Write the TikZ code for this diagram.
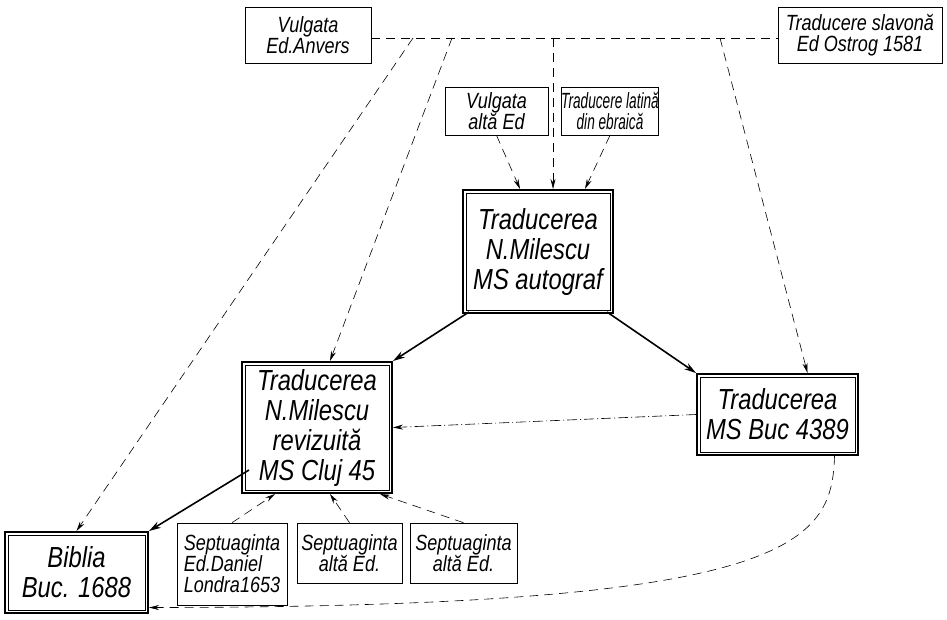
\documentclass[tikz,border=0pt]{standalone}
\usepackage{fontspec}
\setmainfont{Liberation Sans}[FakeStretch=0.82]
\newfontfamily\narrowfont{Liberation Sans}[FakeStretch=0.62]
\usetikzlibrary{arrows.meta,calc}
\begin{document}
\begin{tikzpicture}[x=1pt,y=-1pt,
  smallbox/.style={draw,line width=0.6pt,inner sep=0pt,align=center,font=\itshape\fontsize{22}{21}\selectfont},
  mainbox/.style={draw,line width=2pt,inner sep=0pt,align=center,font=\itshape\fontsize{29}{30}\selectfont},
  tip/.style={-{Stealth[length=10pt,width=5pt]}},
  dashedge/.style={tip,line width=0.6pt,dash pattern=on 9pt off 6pt},
  dashdot/.style={tip,line width=0.6pt,dash pattern=on 10pt off 3pt on 1pt off 3pt},
  thickedge/.style={-{Stealth[length=12pt,width=7pt]},line width=1.6pt}]
\useasboundingbox (0,0) rectangle (947,619);
\newcommand{\innerframe}[1]{\draw[line width=0.6pt] ($(#1.north west)+(4,4)$) rectangle ($(#1.south east)+(-4,-4)$);}

% small boxes
\node[smallbox,minimum width=126,minimum height=56] (anv) at (308,35) {Vulgata\\Ed.Anvers};
\node[smallbox,minimum width=164,minimum height=56] (slav) at (860,35) {Traducere slavonă\\Ed Ostrog 1581};
\node[smallbox,minimum width=103,minimum height=48] (valt) at (496.5,111) {Vulgata\\altă Ed};
\node[smallbox,minimum width=94,minimum height=48,font=\narrowfont\itshape\fontsize{22}{21}\selectfont] (lat) at (610,111) {Traducere latină\\din ebraică};
\node[smallbox,minimum width=110,minimum height=82,align=left] (s1) at (232,564) {Septuaginta\\Ed.Daniel\\Londra1653};
\node[smallbox,minimum width=105,minimum height=60] (s2) at (349.5,553) {Septuaginta\\altă Ed.};
\node[smallbox,minimum width=107,minimum height=60] (s3) at (463.5,553) {Septuaginta\\altă Ed.};

% main boxes
\node[mainbox,minimum width=150,minimum height=123] (mil) at (538,251.5) {Traducerea\\N.Milescu\\MS autograf};
\innerframe{mil}
\node[mainbox,minimum width=150,minimum height=131] (cluj) at (317,427.5) {Traducerea\\N.Milescu\\revizuită\\MS Cluj 45};
\innerframe{cluj}
\node[mainbox,minimum width=161,minimum height=81] (buc) at (777.5,414.5) {Traducerea\\MS Buc 4389};
\innerframe{buc}
\node[mainbox,minimum width=143,minimum height=81] (bib) at (76.5,572.5) {Biblia\\Buc. 1688};
\innerframe{bib}

% top line and branch points
\coordinate (t1) at (413,38);
\coordinate (t2) at (452,38);
\coordinate (t3) at (553,38);
\coordinate (t4) at (720,38);
\draw[line width=0.6pt,dash pattern=on 9pt off 6pt] ([yshift=-3]anv.east) -- ([yshift=-3]slav.west);
\draw[dashedge] (t1) -- (bib.north);
\draw[dashedge] (t2) -- ([xshift=13]cluj.north);
\draw[dashedge] (t3) -- ([xshift=15]mil.north);
\draw[dashedge] (t4) -- ([xshift=30]buc.north);
\draw[dashedge] (valt.south) -- ([xshift=-18]mil.north);
\draw[dashedge] (lat.south) -- ([xshift=47]mil.north);

% thick arrows
\draw[thickedge] ([shift={(7,-2)}]mil.south west) -- (cluj.north east);
\draw[thickedge] ([shift={(-7,-2)}]mil.south east) -- (buc.north west);
\draw[thickedge] ([shift={(8,-24)}]cluj.south west) -- (bib.north east);

% dash-dot
\draw[dashdot] (buc.west) -- (cluj.east);

% septuaginta arrows
\draw[dashedge] (s1.north) -- ([xshift=-42]cluj.south);
\draw[dashedge] (s2.north) -- ([xshift=13]cluj.south);
\draw[dashedge] (s3.north) -- ([xshift=63]cluj.south);

% curve from Buc to Biblia
\draw[dashedge] ([xshift=57]buc.south) .. controls (832,545) and (790,607) .. ([yshift=-35]bib.east);
\end{tikzpicture}
\end{document}
